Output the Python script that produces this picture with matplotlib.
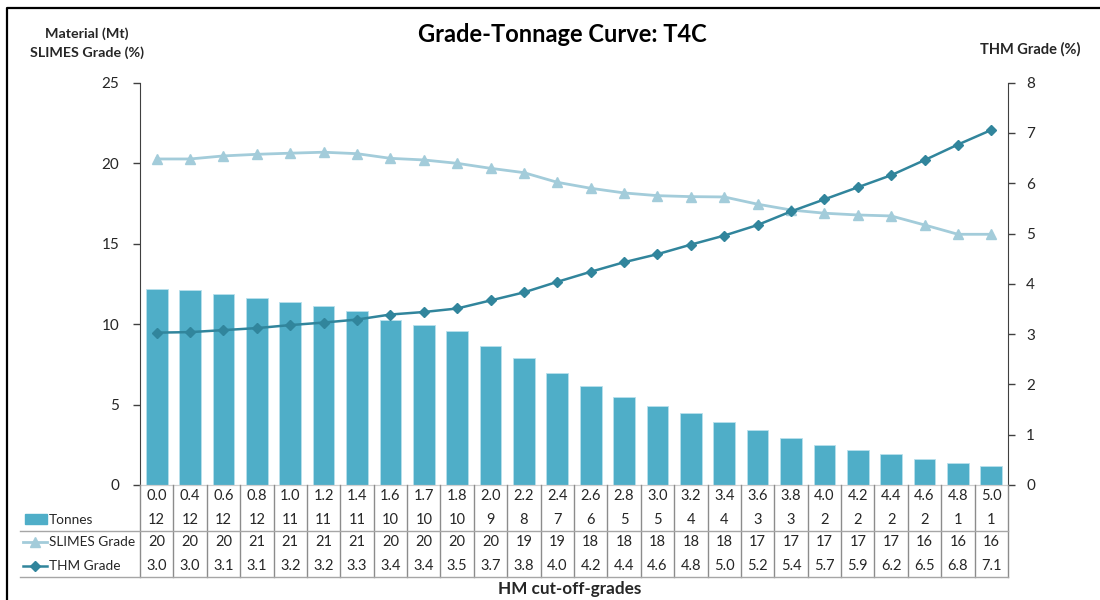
import matplotlib
matplotlib.use('Agg')
import matplotlib.pyplot as plt
from matplotlib.transforms import blended_transform_factory
from matplotlib.lines import Line2D
from matplotlib.patches import Rectangle

# ---------------- data ----------------
cutoffs = [0.0, 0.4, 0.6, 0.8, 1.0, 1.2, 1.4, 1.6, 1.7, 1.8, 2.0, 2.2, 2.4,
           2.6, 2.8, 3.0, 3.2, 3.4, 3.6, 3.8, 4.0, 4.2, 4.4, 4.6, 4.8, 5.0]
tonnes = [12.16, 12.10, 11.87, 11.60, 11.37, 11.11, 10.81, 10.27, 9.94, 9.55,
          8.66, 7.87, 6.94, 6.13, 5.49, 4.93, 4.45, 3.90, 3.42, 2.94, 2.48,
          2.15, 1.91, 1.64, 1.37, 1.20]
slimes = [20.26, 20.26, 20.45, 20.55, 20.62, 20.68, 20.59, 20.30, 20.20, 19.99,
          19.68, 19.41, 18.81, 18.44, 18.15, 17.98, 17.92, 17.90, 17.45, 17.09,
          16.89, 16.78, 16.72, 16.16, 15.58, 15.58]
thm = [3.03, 3.04, 3.08, 3.12, 3.18, 3.23, 3.29, 3.39, 3.44, 3.51, 3.67, 3.83,
       4.04, 4.24, 4.43, 4.59, 4.78, 4.96, 5.17, 5.44, 5.68, 5.92, 6.16, 6.46,
       6.77, 7.06]
left_ticks = [0, 5, 10, 15, 20, 25]
right_ticks = [0, 1, 2, 3, 4, 5, 6, 7, 8]
series_names = ["Tonnes", "SLIMES Grade", "THM Grade"]

BAR_C = '#4FAEC8'
SLIME_C = '#A3CCDA'
THM_C = '#31859C'
TXT = '#262626'

plt.rcParams['font.family'] = ['Lato', 'DejaVu Sans']

W, H = 1100, 600
fig = plt.figure(figsize=(W / 100, H / 100), dpi=100)

def fx(px):
    return px / W

def fy(py):
    return 1 - py / H

L, R, B, T = 140, 1008, 485, 82.7
ax = fig.add_axes([fx(L), fy(B), fx(R) - fx(L), fy(T) - fy(B)])
ax2 = ax.twinx()

x = list(range(len(cutoffs)))
ax.bar(x, tonnes, width=0.65, color=BAR_C, edgecolor='#B9E0EC', linewidth=0.6, zorder=2)
ax.plot(x, slimes, color=SLIME_C, lw=2.0, marker='^', markersize=7, zorder=3)
ax2.plot(x, thm, color=THM_C, lw=1.8, marker='D', markersize=5, zorder=3)

ax.set_xlim(-0.5, len(cutoffs) - 0.5)
ax.set_ylim(0, 25)
ax2.set_ylim(0, 8)
ax.set_yticks(left_ticks)
ax2.set_yticks(right_ticks)
ax.set_xticks([])

for a in (ax, ax2):
    a.spines['top'].set_visible(False)
    a.spines['bottom'].set_color('#D0D0D0')
    a.spines['left'].set_color('#404040')
    a.spines['right'].set_color('#404040')
    a.tick_params(axis='y', direction='out', length=5, width=1, color='#404040',
                  labelsize=11, labelcolor=TXT)
ax.tick_params(axis='y', pad=10)
ax2.tick_params(axis='y', pad=8)
ax2.spines['left'].set_visible(False)
ax.spines['right'].set_visible(False)

# ---------------- data table ----------------
tr = blended_transform_factory(ax.transData, fig.transFigure)
row_y = [496, 519.5, 542, 565.5]
line_c = '#8C8C8C'
for k in range(len(cutoffs) + 1):
    fig.add_artist(Line2D([k - 0.5, k - 0.5], [fy(485), fy(577)], transform=tr,
                          color=line_c, lw=1))
for yy in (531, 577):
    fig.add_artist(Line2D([fx(20), fx(R)], [fy(yy), fy(yy)], transform=fig.transFigure,
                          color='#A6A6A6', lw=1))

rows = [[f"{v:.1f}" for v in cutoffs],
        [f"{v:.0f}" for v in tonnes],
        [f"{v:.0f}" for v in slimes],
        [f"{v:.1f}" for v in thm]]
for ry, labels in zip(row_y, rows):
    for i, s in enumerate(labels):
        fig.text(i, fy(ry), s, transform=tr, ha='center', va='center',
                 fontsize=10.5, color=TXT)

# legend keys
fig.add_artist(Rectangle((fx(25), fy(524)), fx(47) - fx(25), fy(514) - fy(524),
                         transform=fig.transFigure, color=BAR_C))
fig.add_artist(Line2D([fx(23), fx(35), fx(47)], [fy(565.5)] * 3, transform=fig.transFigure,
                      color=THM_C, lw=1.8, marker='D', markersize=5, markevery=[1]))
fig.add_artist(Line2D([fx(23), fx(35), fx(47)], [fy(542)] * 3, transform=fig.transFigure,
                      color=SLIME_C, lw=2, marker='^', markersize=7, markevery=[1]))
for ry, name in zip(row_y[1:], series_names):
    fig.text(fx(49), fy(ry), name, ha='left', va='center', fontsize=9.8, color=TXT)

# ---------------- titles ----------------
fig.text(fx(562), fy(34), "Grade-Tonnage Curve: T4C", ha='center', va='center',
         fontsize=17, fontweight='bold', color='black')
fig.text(fx(87), fy(34), "Material (Mt)", ha='center', va='center',
         fontsize=10.3, fontweight='bold', color=TXT)
fig.text(fx(87), fy(53), "SLIMES Grade (%)", ha='center', va='center',
         fontsize=10.3, fontweight='bold', color=TXT)
fig.text(fx(1030), fy(49), "THM Grade (%)", ha='center', va='center',
         fontsize=10.5, fontweight='bold', color=TXT)
fig.text(fx(570), fy(589), "HM cut-off-grades", ha='center', va='center',
         fontsize=12.3, fontweight='bold', color=TXT)

# outer frame
fig.add_artist(Line2D([fx(7), fx(7), fx(1100)], [fy(600), fy(8), fy(8)],
                      transform=fig.transFigure, color='black', lw=1.6))

fig.savefig('out.png', dpi=100)
